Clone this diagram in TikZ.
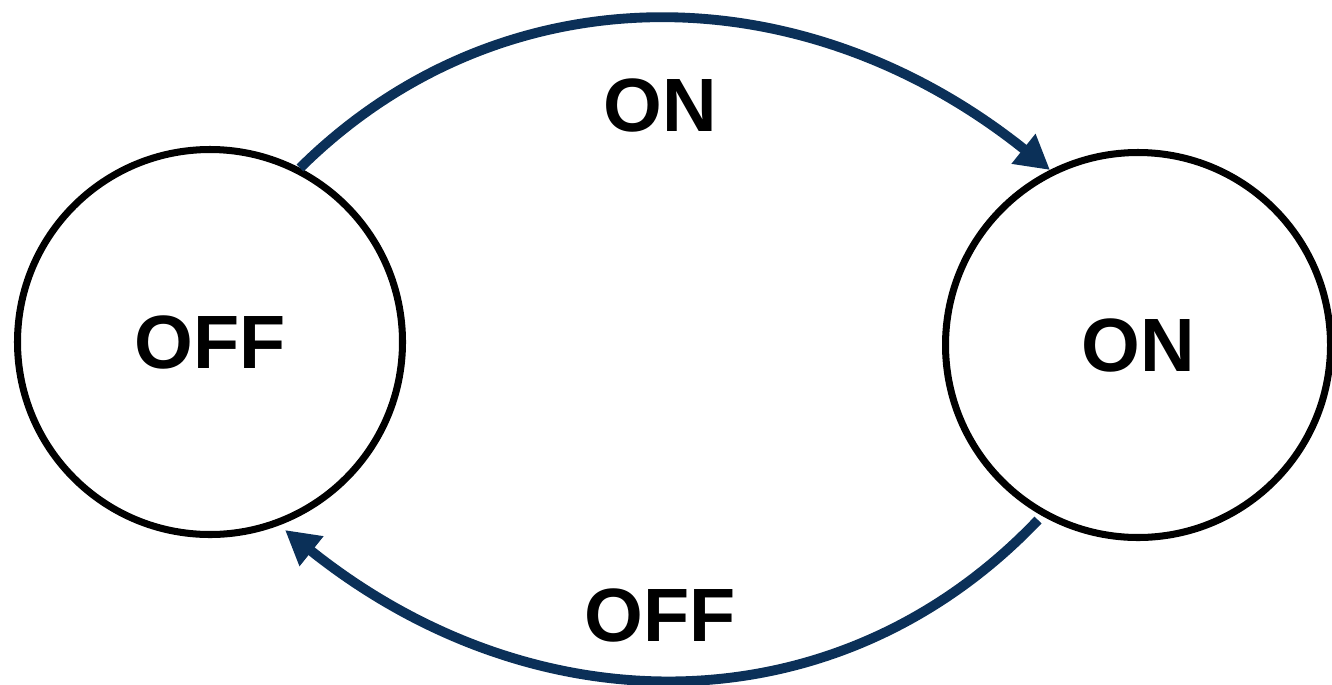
\documentclass[tikz,border=0pt]{standalone}
\usepackage{fontspec}
\setmainfont{Liberation Sans}
\usetikzlibrary{arrows.meta, positioning}
\definecolor{navy}{HTML}{0B3058}

\begin{document}
\begin{tikzpicture}[
  font=\bfseries\fontsize{21.5}{25}\selectfont,
  state/.style={draw, circle, line width=2pt, minimum size=3.85cm,
                inner sep=0pt},
  arr/.style={-{Triangle[length=0.34cm, width=0.36cm]}, draw=navy,
              line width=2.8pt}
]
  \useasboundingbox (0,0) rectangle (13.32,-6.84);

  \node[state] (off) at (2.10,-3.42)  {OFF};
  \node[state] (on)  at (11.38,-3.45) {ON};

  \coordinate (offtop) at (3.00,-1.68);
  \coordinate (ontop)  at (10.50,-1.70);
  \coordinate (onbot)  at (10.38,-5.20);
  \coordinate (offbot) at (2.85,-5.30);

  \node (lblon)  at (6.60,-1.05) {ON};
  \node (lbloff) at (6.60,-6.15) {OFF};

  \draw[arr] (offtop) .. controls (5.0,0.30) and (8.0,0.30) .. (ontop);
  \draw[arr] (onbot) .. controls (8.38,-7.3) and (5.35,-7.3) .. (offbot);
\end{tikzpicture}
\end{document}
